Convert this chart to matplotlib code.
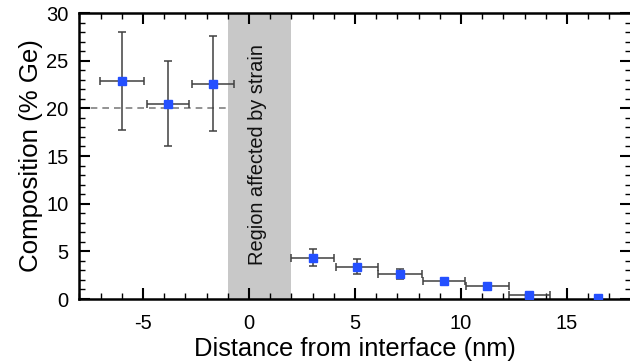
import matplotlib
matplotlib.use("Agg")
import matplotlib.pyplot as plt
from matplotlib.ticker import MultipleLocator

plt.rcParams['font.family'] = ['Liberation Sans', 'DejaVu Sans']
plt.rcParams['axes.unicode_minus'] = False

# Data
x = [-6.0, -3.83, -1.7, 3.0, 5.1, 7.12, 9.21, 11.24, 13.22, 16.45]
y = [22.9, 20.5, 22.6, 4.35, 3.4, 2.62, 1.85, 1.33, 0.45, 0.1]
yerr = [5.15, 4.5, 5.0, 0.9, 0.8, 0.5, 0.3, 0.25, 0.15, 0.0]
xerr = [1.03, 1.0, 1.0, 1.0, 1.0, 1.02, 1.0, 1.0, 0.98, 0.0]
strain_region = (-1.0, 2.0)
nominal = 20.0

fig = plt.figure(figsize=(6.3, 3.62), dpi=100)
ax = fig.add_axes([0.126, 0.174, 0.875, 0.790])

ax.axvspan(strain_region[0], strain_region[1], color='#c8c8c8', lw=0, zorder=0)
ax.plot([-8, strain_region[0]], [nominal, nominal], ls=(0, (4, 3)), color='#808080', lw=1.2, zorder=1)
ax.errorbar(x, y, yerr=yerr, xerr=xerr, fmt='none', ecolor='#404040',
            elinewidth=1.1, capsize=2.8, capthick=1.1, zorder=2)
ax.plot(x, y, 's', color='#2450ff', markersize=6.2, zorder=3, clip_on=True)

ax.text(0.4, 15.2, 'Region affected by strain', rotation=90, ha='center', va='center',
        fontsize=14.4, color='#111111')

ax.set_xlim(-8, 18)
ax.set_ylim(0, 30)
ax.xaxis.set_major_locator(MultipleLocator(5))
ax.xaxis.set_minor_locator(MultipleLocator(1))
ax.yaxis.set_major_locator(MultipleLocator(5))
ax.yaxis.set_minor_locator(MultipleLocator(1))
ax.tick_params(which='both', direction='in', top=True, right=True, labelsize=14.5)
ax.tick_params(axis='x', which='major', pad=11)
ax.tick_params(axis='y', which='major', pad=8)
ax.tick_params(which='major', length=8, width=1.5)
ax.tick_params(which='minor', length=4, width=1.0)
for s in ax.spines.values():
    s.set_linewidth(1.8)

ax.set_xlabel('Distance from interface (nm)', fontsize=18.4, labelpad=3)
ax.set_ylabel('Composition (% Ge)', fontsize=18.6, labelpad=2)

fig.savefig('out.png', dpi=100)
